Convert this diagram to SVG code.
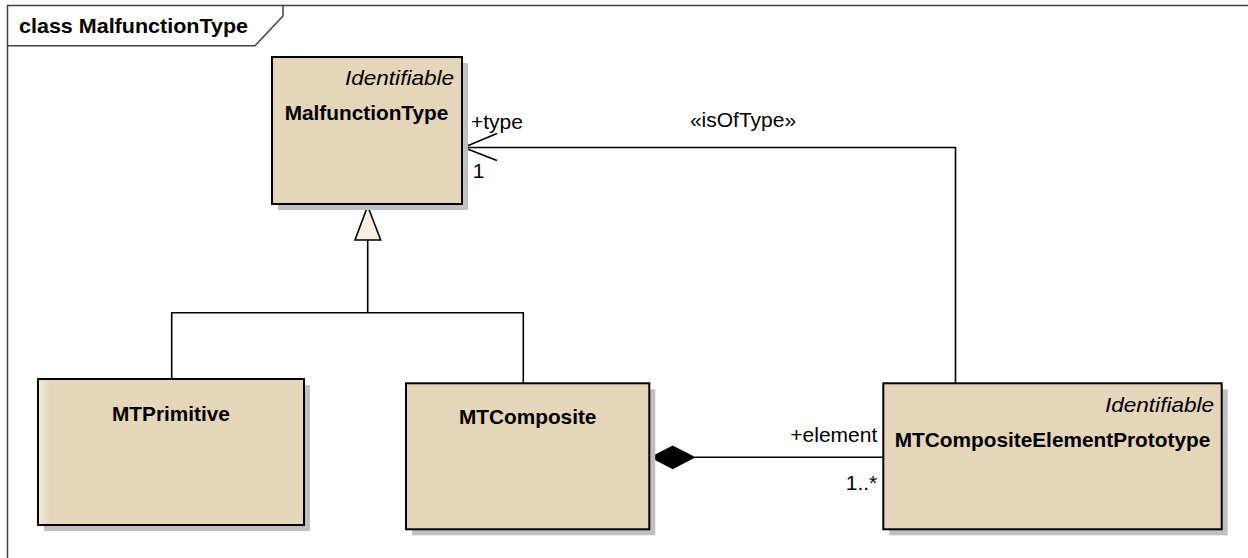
<svg xmlns="http://www.w3.org/2000/svg" width="1248" height="558" viewBox="0 0 1248 558">
<style>
.frame{fill:none;stroke:#404040;stroke-width:1.5}
.shadow{fill:#c0c0c0}
.box{fill:#e5d5bb;stroke:#000;stroke-width:2}
.line{fill:none;stroke:#000;stroke-width:1.6}
.name{font-family:"Liberation Sans",Arial,sans-serif;font-weight:bold;font-size:20.8px;fill:#000}
.stereo{font-family:"Liberation Sans",Arial,sans-serif;font-style:italic;font-size:20.8px;fill:#000}
.lbl{font-family:"Liberation Sans",Arial,sans-serif;font-size:21px;fill:#000}
</style>
<defs>
<linearGradient id="leftShade" x1="0" y1="0" x2="1" y2="0">
<stop offset="0" stop-color="#f5ecdc"/>
<stop offset="0.045" stop-color="#e5d5bb"/>
<stop offset="1" stop-color="#e5d5bb"/>
</linearGradient>
</defs>
<rect x="0" y="0" width="1248" height="558" fill="#fff"/>
<g id="frame">
<path class="frame" d="M7.5,558 V5.5 H1248"/>
<path class="frame" d="M7.5,45.7 H255 L283,16 V5.5"/>
<text x="19" y="33" class="name" style="font-size:21px" textLength="229" lengthAdjust="spacingAndGlyphs">class MalfunctionType</text>
</g>
<g id="connectors">
<path class="line" d="M955.5,383.3 V147.5 H463.5"/>
<path class="line" d="M497,133.5 L463.5,147.5 L497,160.5"/>
<path class="line" d="M694.7,457.3 H883.3"/>
<polygon points="650.7,457.3 672.7,446 694.7,457.3 672.7,468.7" fill="#000" stroke="#000" stroke-width="1"/>
<path class="line" d="M171.7,379 V312.7 H523.3 V383.3"/>
<path class="line" d="M367.7,312.7 V240"/>
<polygon points="367.7,206 355,240 380.7,240" fill="#f8efe0" stroke="#000" stroke-width="1.6" stroke-linejoin="miter"/>
<text x="471" y="129.3" class="lbl">+type</text>
<text x="472.7" y="178" class="lbl">1</text>
<text x="743" y="127.3" class="lbl" text-anchor="middle">«isOfType»</text>
<text x="877.3" y="441.7" class="lbl" text-anchor="end">+element</text>
<text x="877.3" y="490" class="lbl" text-anchor="end">1..*</text>
</g>
<g id="MalfunctionType">
<rect class="shadow" x="278" y="63" width="190" height="147"/>
<rect class="box" x="272" y="57" width="190" height="147"/>
<text x="454" y="85" class="stereo" text-anchor="end" textLength="109" lengthAdjust="spacingAndGlyphs">Identifiable</text>
<text x="366.5" y="120" class="name" text-anchor="middle">MalfunctionType</text>
</g>
<g id="MTPrimitive">
<rect class="shadow" x="44" y="385" width="266" height="146"/>
<rect class="box" x="38" y="379" width="266" height="146" style="fill:url(#leftShade)"/>
<text x="171" y="421" class="name" text-anchor="middle">MTPrimitive</text>
</g>
<g id="MTComposite">
<rect class="shadow" x="412" y="389.3" width="243.3" height="146"/>
<rect class="box" x="406" y="383.3" width="243.3" height="146"/>
<text x="527.7" y="424" class="name" text-anchor="middle">MTComposite</text>
</g>
<g id="MTCompositeElementPrototype">
<rect class="shadow" x="889.3" y="389.3" width="338.4" height="146"/>
<rect class="box" x="883.3" y="383.3" width="338.4" height="146"/>
<text x="1214" y="411.5" class="stereo" text-anchor="end" textLength="109" lengthAdjust="spacingAndGlyphs">Identifiable</text>
<text x="1052.5" y="446.7" class="name" text-anchor="middle">MTCompositeElementPrototype</text>
</g>
</svg>
